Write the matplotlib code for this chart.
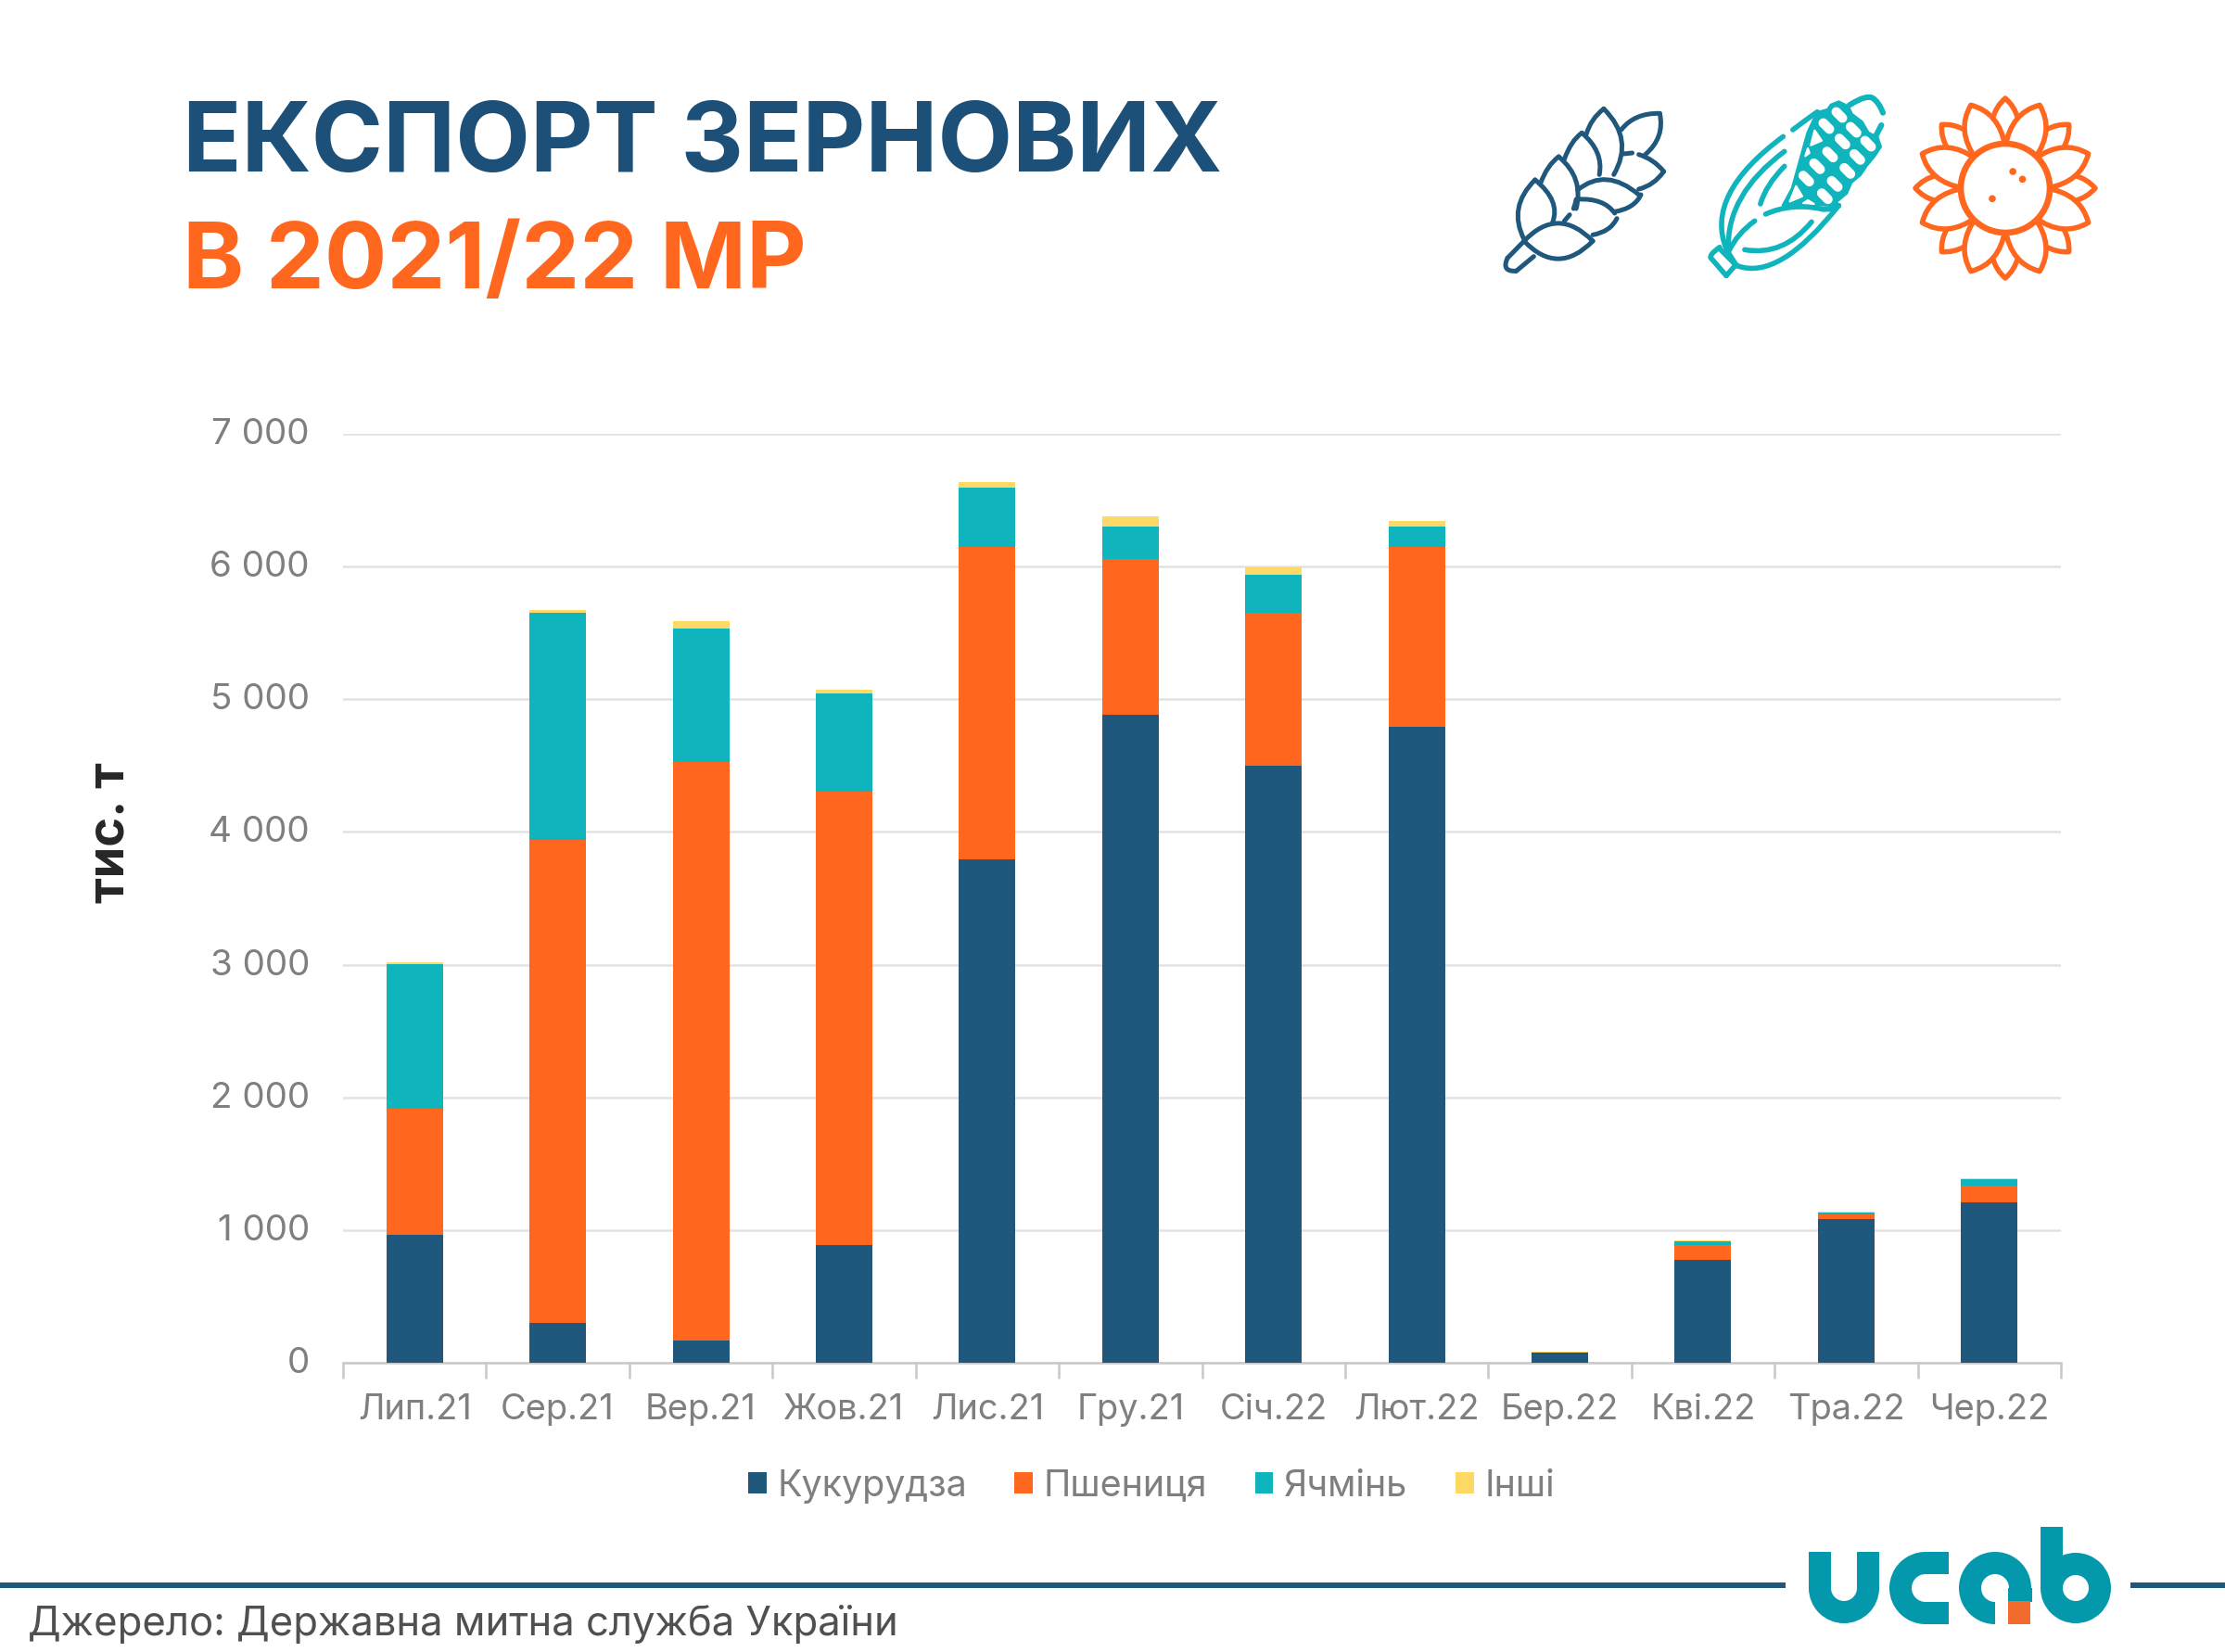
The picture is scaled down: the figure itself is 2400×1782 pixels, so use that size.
import matplotlib
matplotlib.use('Agg')
from matplotlib import pyplot as plt
from matplotlib.path import Path
from matplotlib.patches import PathPatch, Circle, Rectangle, Wedge, Polygon
from matplotlib.transforms import ScaledTranslation
import numpy as np

plt.rcParams['font.family'] = ['Inter', 'DejaVu Sans']

# dane
months = ['Лип.21', 'Сер.21', 'Вер.21', 'Жов.21', 'Лис.21', 'Гру.21',
          'Січ.22', 'Лют.22', 'Бер.22', 'Кві.22', 'Тра.22', 'Чер.22']
corn = [966, 300, 165, 890, 3795, 4885, 4500, 4795, 75, 775, 1080, 1210]
wheat = [950, 3640, 4365, 3415, 2355, 1175, 1150, 1355, 0, 115, 40, 125]
barley = [1090, 1710, 1005, 740, 445, 240, 285, 150, 0, 25, 15, 50]
other = [15, 20, 55, 30, 40, 75, 60, 45, 10, 5, 3, 5]
series_names = ['Кукурудза', 'Пшениця', 'Ячмінь', 'Інші']
y_ticks = [0, 1000, 2000, 3000, 4000, 5000, 6000, 7000]
y_labels = ['0', '1 000', '2 000', '3 000', '4 000', '5 000', '6 000', '7 000']

NAVY = '#1f587c'
ORANGE = '#ff671f'
TEAL = '#10b4bc'
YELLOW = '#ffd966'
LOGO = '#0398ac'
GREY = '#7f7f7f'

fig = plt.figure(figsize=(12, 8.91), dpi=200)
ax = fig.add_axes([370 / 2400, 1 - 1470 / 1782, (2223 - 370) / 2400, (1470 - 468) / 1782])

# slupki
x = np.arange(len(months))
bottom = np.zeros(len(months))
for vals, col, name in zip([corn, wheat, barley, other], [NAVY, ORANGE, TEAL, YELLOW], series_names):
    ax.bar(x, vals, 0.395, bottom=bottom, color=col, label=name, zorder=3)
    bottom += np.array(vals)

ax.set_xlim(-0.5, 11.5)
ax.set_ylim(0, 7000)
ax.set_yticks(y_ticks)
ax.set_yticklabels(y_labels)
ax.set_xticks(x)
ax.set_xticklabels(months)
ax.set_xticks(np.arange(-0.5, 12), minor=True)
ax.grid(axis='y', color='#e2e2e2', linewidth=0.9, zorder=0)
for s in ['top', 'right', 'left']:
    ax.spines[s].set_visible(False)
ax.spines['bottom'].set_color('#c8c8c8')
ax.spines['bottom'].set_linewidth(0.9)
ax.tick_params(axis='y', length=0, pad=13, labelsize=13.9, labelcolor=GREY)
ax.tick_params(axis='x', which='major', length=0, pad=12, labelsize=13.7, labelcolor=GREY)
ax.tick_params(axis='x', which='minor', length=6, width=0.9, color='#c8c8c8')
# etykiety osi y lekko wyzej
for lab in ax.get_yticklabels():
    lab.set_transform(lab.get_transform() + ScaledTranslation(0, 3 / 200, fig.dpi_scale_trans))

fig.legend(loc='center', bbox_to_anchor=(0.5175, 0.1004), ncol=4, frameon=False, fontsize=14.2,
           labelcolor=GREY, handlelength=0.5, handleheight=0.5, handletextpad=0.3, columnspacing=1.3)

fig.text(197 / 2400, 1 - 158 / 1782, 'ЕКСПОРТ ЗЕРНОВИХ', color='#1c5078', fontsize=37.7, fontweight='bold', va='center')
fig.text(197 / 2400, 1 - 285 / 1782, 'В 2021/22 МР', color=ORANGE, fontsize=36, fontweight='bold', va='center')
fig.text(119 / 2400, 1 - 898 / 1782, 'тис. т', color='#262626', fontsize=19.5, fontweight='bold',
         rotation=90, ha='center', va='center')
fig.text(30 / 2400, 1 - 1752 / 1782, 'Джерело: Державна митна служба України', color='#505050',
         fontsize=15.7, va='center')

# warstwa na ikony i logo, w pikselach obrazka
ov = fig.add_axes([0, 0, 1, 1], zorder=5)
ov.set_xlim(0, 2400)
ov.set_ylim(1782, 0)
ov.axis('off')


def zp(p):
    return 1560 + p[0] / 2.119, 60 + p[1] / 3


def cp(p):
    return 1900 + p[0] / 3, 100 + p[1] / 3


def curve(pts, col, lw=1.8, fill='none', z=6, conv=zp):
    pts = [conv(p) for p in pts]
    if len(pts) == 2:
        verts, codes = pts, [Path.MOVETO, Path.LINETO]
    else:
        verts, codes = [pts[0]], [Path.MOVETO]
        for i in range(1, len(pts) - 1):
            end = pts[-1] if i == len(pts) - 2 else ((pts[i][0] + pts[i + 1][0]) / 2, (pts[i][1] + pts[i + 1][1]) / 2)
            verts += [pts[i], end]
            codes += [Path.CURVE3, Path.CURVE3]
    ov.add_patch(PathPatch(Path(verts, codes), facecolor=fill, edgecolor=col, lw=lw,
                           capstyle='round', joinstyle='round', zorder=z))


# klos
wheat_lines = [
    [(178, 595), (140, 490), (203, 402)], [(203, 402), (262, 470), (243, 540)],
    [(215, 415), (230, 355), (257, 327)], [(257, 327), (315, 395), (297, 495)],
    [(270, 335), (285, 275), (310, 250)], [(310, 250), (360, 310), (350, 385)],
    [(320, 255), (330, 205), (360, 172)], [(360, 172), (430, 270), (383, 385)],
    [(400, 240), (430, 185), (488, 187)], [(488, 187), (500, 265), (455, 320)],
    [(405, 318), (425, 315)],
    [(178, 600), (255, 485), (335, 600)], [(178, 600), (255, 715), (335, 600)],
    [(335, 580), (375, 570), (390, 527)], [(300, 465), (360, 460), (385, 510)],
    [(270, 535), (282, 515)], [(297, 465), (295, 480), (291, 495)],
    [(300, 435), (365, 360), (440, 450)], [(385, 505), (430, 495), (445, 450)],
    [(440, 320), (475, 335), (497, 375)], [(497, 375), (475, 420), (440, 432)],
    [(178, 600), (140, 655)], [(140, 655), (125, 700), (160, 697)], [(160, 697), (200, 650)],
]
for pts in wheat_lines:
    curve(pts, NAVY)

# kukurydza
cob = [(180, 65), (215, 55), (225, 40), (250, 30), (280, 45), (292, 70), (325, 95), (345, 130), (375, 145),
       (385, 175), (365, 205), (340, 235), (320, 265), (290, 290), (275, 325), (245, 350), (240, 365),
       (150, 360), (70, 365), (100, 310), (125, 220), (150, 130)]
ov.add_patch(Polygon([cp(p) for p in cob], closed=True, facecolor=TEAL, edgecolor=TEAL, lw=1.2,
                     joinstyle='round', zorder=6))
cells = [(252, 72), (210, 108), (298, 120), (262, 158), (345, 165), (222, 200), (310, 208),
         (180, 238), (278, 253), (145, 278), (237, 295), (205, 335)]
for cx, cy in cells:
    curve([(cx - 10, cy - 10), (cx + 10, cy + 10)], 'white', lw=3.7, z=7, conv=cp)
small_cells = [
    [(172, 122), (195, 155), (160, 170)],
    [(150, 180), (142, 205), (155, 195)],
    [(112, 302), (132, 335), (92, 352)],
    [(135, 358), (150, 348), (170, 360)],
]
for tri in small_cells:
    ov.add_patch(Polygon([cp(p) for p in tri], closed=True, facecolor='white', edgecolor='white',
                         lw=0.8, joinstyle='round', zorder=7))
curve([(285, 40), (340, 5), (380, 30), (393, 65)], TEAL, lw=2.2, z=8, conv=cp)
curve([(388, 105), (370, 140)], TEAL, lw=2.2, z=8, conv=cp)
corn_lines = [
    [(792, 240), (820, 210), (848, 182)], [(770, 262), (590, 450), (640, 625)],
    [(773, 310), (640, 450), (645, 625)], [(773, 358), (730, 420), (718, 480)],
    [(730, 513), (790, 475), (860, 497)], [(860, 497), (890, 500), (897, 485)],
    [(705, 535), (665, 575), (645, 635)], [(682, 628), (770, 650), (835, 538)],
    [(897, 485), (760, 730), (665, 680)], [(640, 625), (655, 665), (665, 680)],
    [(625, 620), (600, 645), (605, 655)], [(605, 655), (640, 712)], [(640, 712), (660, 680)],
    [(625, 625), (660, 675)],
]
for pts in corn_lines:
    curve(pts, TEAL, lw=2.0, z=8)

# slonecznik
cx, cy = 2163, 203
for step in [0, 1]:
    for k in range(step, 16, 2):
        a = np.radians(k * 22.5)
        half = 0.30 if step else 0.24
        pts = []
        for r, d in [(45, -half * 1.3), (82, -half * 1.05), (97, 0), (82, half * 1.05), (45, half * 1.3)]:
            pts.append((cx + r * np.sin(a + d), cy - r * np.cos(a + d)))
        verts = [pts[0], pts[1], pts[2], pts[3], pts[4], pts[0]]
        codes = [Path.MOVETO, Path.CURVE3, Path.CURVE3, Path.CURVE3, Path.CURVE3, Path.LINETO]
        ov.add_patch(PathPatch(Path(verts, codes), facecolor='white', edgecolor=ORANGE, lw=2.0,
                               joinstyle='round', zorder=6 + step))
ov.add_patch(Circle((cx, cy), 48, facecolor='white', edgecolor=ORANGE, lw=2.4, zorder=8))
for dot in [(1295, 375), (1317, 400), (1248, 463)]:
    ov.add_patch(Circle(zp(dot), 2.4, color=ORANGE, zorder=9))

# linia dolna
ov.add_patch(Rectangle((0, 1707), 1926, 6, color='#1f587c', lw=0))
ov.add_patch(Rectangle((2298, 1707), 102, 6, color='#1f587c', lw=0))

# logo: u
ov.add_patch(Wedge((1989, 1713), 38, 0, 180, width=24, color=LOGO, lw=0))
ov.add_patch(Rectangle((1951, 1674), 24, 39.5, color=LOGO, lw=0))
ov.add_patch(Rectangle((2003, 1674), 24, 39.5, color=LOGO, lw=0))
# c
ov.add_patch(Wedge((2077, 1713), 39, 90, 270, width=24, color=LOGO, lw=0))
ov.add_patch(Rectangle((2076, 1674), 26, 24, color=LOGO, lw=0))
ov.add_patch(Rectangle((2076, 1728), 26, 24, color=LOGO, lw=0))
# a
ov.add_patch(Wedge((2152, 1713), 39, 0, 360, width=24, color=LOGO, lw=0))
ov.add_patch(Rectangle((2152, 1713), 14, 40, color='white', lw=0))
ov.add_patch(Rectangle((2166, 1713), 26, 15, color=LOGO, lw=0))
ov.add_patch(Rectangle((2166, 1727), 24, 25, color='#f36c2e', lw=0, zorder=4))
ov.add_patch(Rectangle((2152, 1728), 14, 24, color='white', lw=0, zorder=4))
# b
ov.add_patch(Wedge((2239, 1713), 38, 0, 360, width=24, color=LOGO, lw=0))
ov.add_patch(Rectangle((2201, 1647), 24, 66, color=LOGO, lw=0))

fig.savefig('out.png', dpi=200)
